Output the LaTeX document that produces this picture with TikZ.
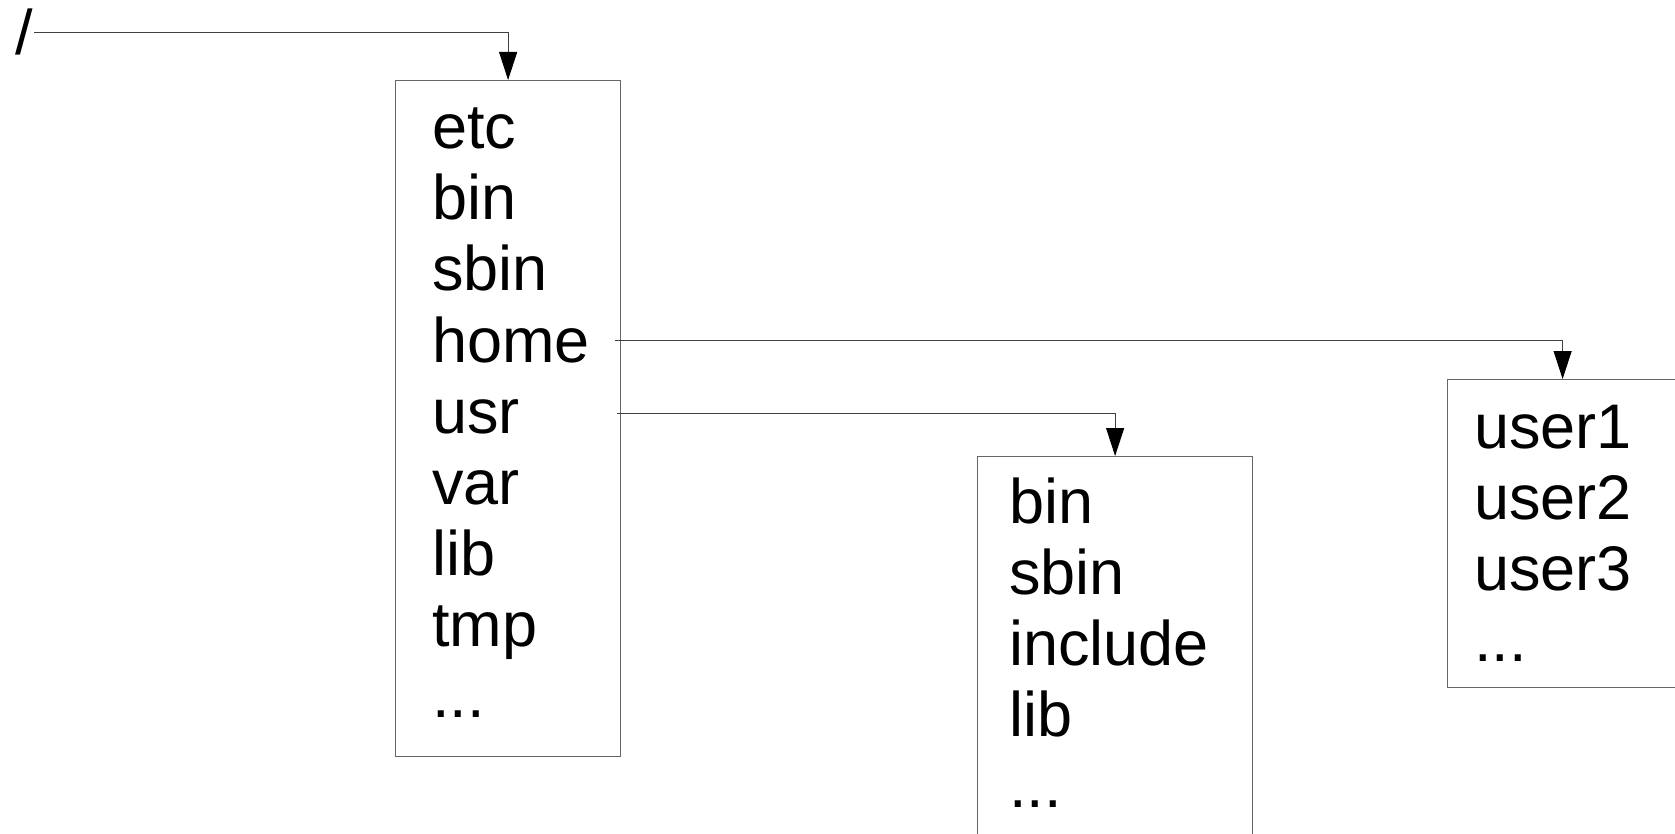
\documentclass[tikz,border=0pt]{standalone}
\usepackage{fontspec}
\setmainfont{Liberation Sans}
\usetikzlibrary{arrows.meta,calc}
\newcommand\moreitems{...}
\begin{document}
\begin{tikzpicture}[x=0.5pt,y=-0.5pt,
  dirbox/.style={draw=black!60, line width=0.6pt, inner sep=0pt, anchor=north west},
  entry/.style={inner sep=0pt, anchor=base west, font=\fontsize{31.5}{36}\selectfont},
  link/.style={draw=black!75, line width=0.5pt, -{Triangle[length=14pt,width=9pt,black]}}]
\useasboundingbox (0,0) rectangle (1675,834);
\fill[white] (0,0) rectangle (1675,834);
\clip (0,0) rectangle (1675,834);

% directory boxes
\node[dirbox, minimum width=112.5pt, minimum height=338pt] (rootdir) at (395,80) {};
\node[dirbox, minimum width=137.5pt, minimum height=196pt] (usrdir) at (977,456) {};
\node[dirbox, minimum width=115pt, minimum height=154pt] (homedir) at (1447,379) {};

% root label
\node[entry] (slash) at (15,55) {/};

% contents of /
\foreach \name [count=\i from 0] in {etc,bin,sbin,home,usr,var,lib,tmp,\moreitems}
  \node[entry] (r\i) at (432,{149+71*\i}) {\name};

% contents of /usr
\foreach \name [count=\i from 0] in {bin,sbin,include,lib,\moreitems}
  \node[entry] (u\i) at (1009,{523+71*\i}) {\name};

% contents of /home
\foreach \name [count=\i from 0] in {user1,user2,user3,\moreitems}
  \node[entry] (h\i) at (1474,{448+71*\i}) {\name};

% links
\coordinate (homeout) at ($(rootdir.east |- r3.base)+(-6,-22)$);
\coordinate (usrout) at ($(rootdir.east |- r4.base)+(-4,-20)$);
\draw[link] ([xshift=0.5pt]slash.east) -| (rootdir.north);
\draw[link] (homeout) -| (homedir.north);
\draw[link] (usrout) -| (usrdir.north);
\end{tikzpicture}
\end{document}
